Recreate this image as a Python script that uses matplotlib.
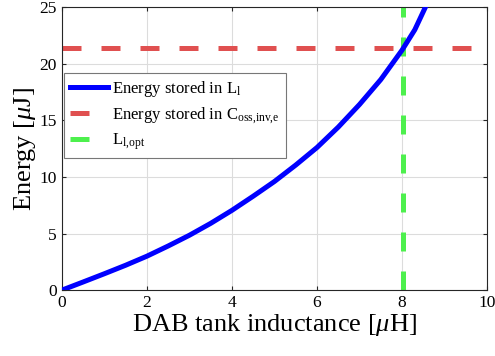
"""Energy in DAB tank inductance vs energy in Coss."""
import matplotlib
matplotlib.use("Agg")
import matplotlib.pyplot as plt
import numpy as np

# values
inductance = [0, 0.5, 1, 1.5, 2, 2.5, 3, 3.5, 4, 4.5, 5, 5.5, 6, 6.5, 7, 7.5, 8, 8.3, 8.6]
energy_L = [0, 0.72, 1.45, 2.2, 3.0, 3.9, 4.85, 5.9, 7.05, 8.3, 9.6, 11.05, 12.6, 14.4, 16.4, 18.6, 21.2, 23.0, 25.4]
energy_coss = 21.4
L_opt = 8.03

plt.rcParams["font.family"] = ["Liberation Serif", "DejaVu Serif"]
plt.rcParams["mathtext.fontset"] = "custom"
plt.rcParams["mathtext.rm"] = "Liberation Serif"
plt.rcParams["mathtext.it"] = "Liberation Serif:italic"

fig = plt.figure(figsize=(4.95, 3.56), dpi=100)
ax = fig.add_axes([0.125, 0.185, 0.859, 0.795])

ax.plot(inductance, energy_L, color="#0000ff", lw=3.6, label=r"Energy stored in L$_\mathrm{l}$", zorder=3)
ax.axhline(energy_coss, color="#e05050", lw=3.6, dashes=(3.8, 4.0),
           label=r"Energy stored in C$_\mathrm{oss{,}inv{,}e}$", zorder=2)
ax.axvline(L_opt, color="#4df04d", lw=3.6, dashes=(3.8, 4.0),
           label=r"L$_\mathrm{l{,}opt}$", zorder=2)

ax.set_xlim(0, 10)
ax.set_ylim(0, 25)
ax.set_xticks(range(0, 11, 2))
ax.set_yticks(range(0, 26, 5))
ax.tick_params(direction="in", top=True, right=True, labelsize=12.5, length=3, color="#262626")
ax.grid(color="#dcdcdc", lw=0.8)
ax.set_axisbelow(True)
for s in ax.spines.values():
    s.set_color("#262626")
    s.set_linewidth(0.8)

ax.set_xlabel(r"DAB tank inductance [$\mu$H]", fontsize=19, labelpad=1)
ax.set_ylabel(r"Energy [$\mu$J]", fontsize=19, labelpad=1)

leg = ax.legend(loc="upper left", bbox_to_anchor=(0.005, 0.766), borderaxespad=0,
                fontsize=12, handlelength=2.3, fancybox=False, framealpha=1,
                edgecolor="#777777", borderpad=0.35, labelspacing=0.35, handletextpad=0.25)
leg.get_frame().set_linewidth(0.8)

fig.savefig("out.png", dpi=100)
